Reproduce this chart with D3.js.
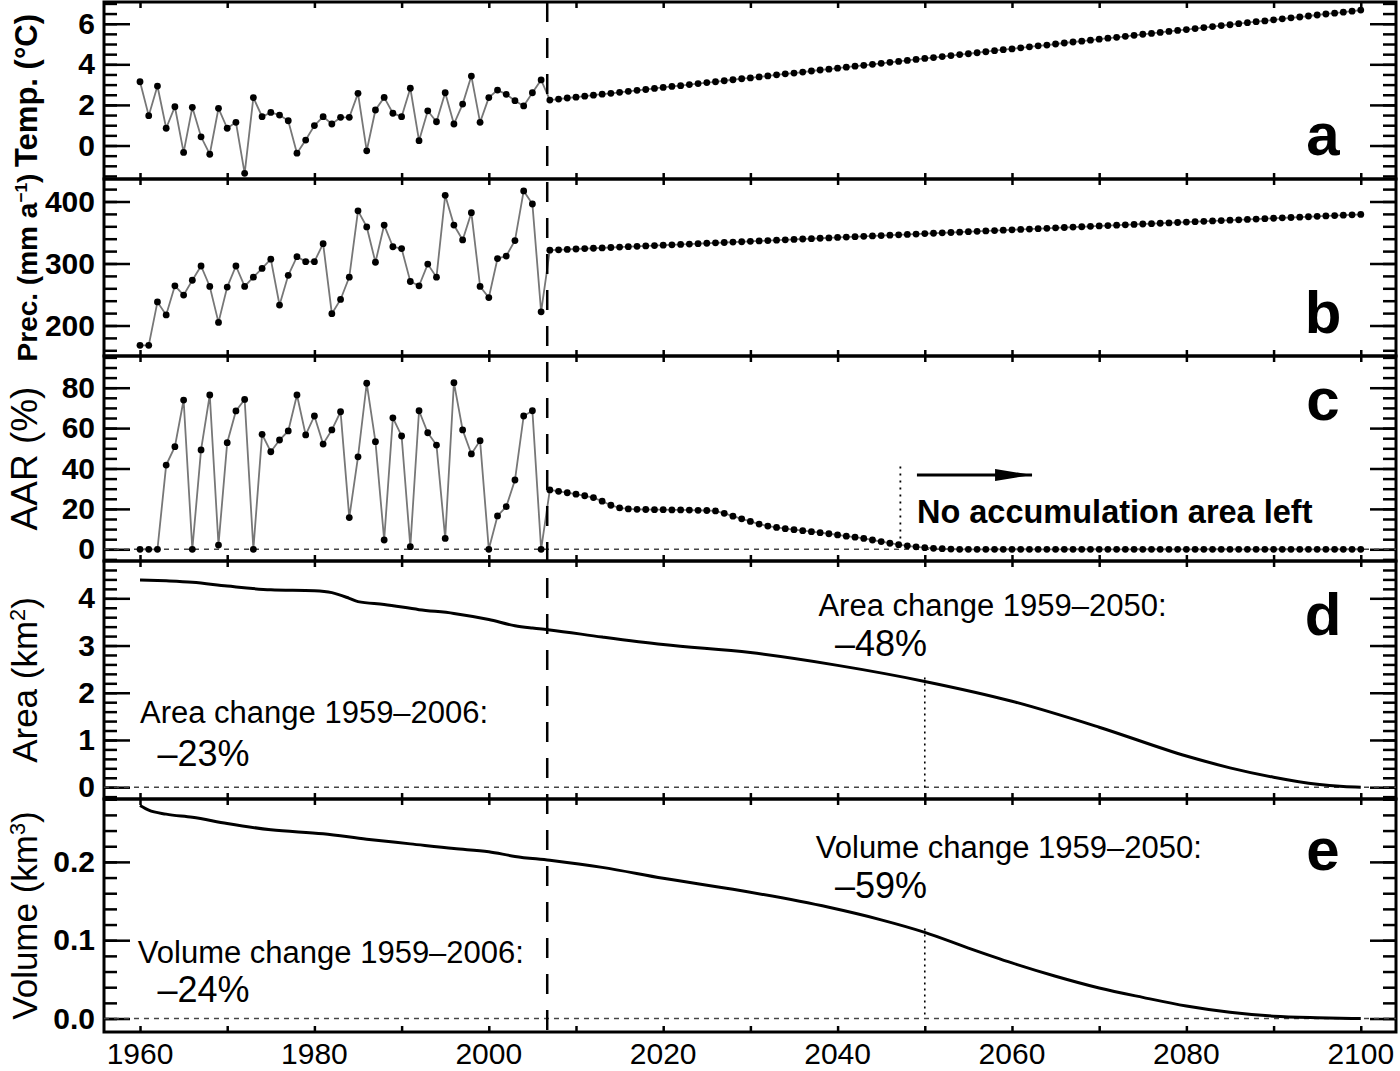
<!DOCTYPE html>
<html>
<head>
<meta charset="utf-8">
<script src="https://cdn.jsdelivr.net/npm/d3@7"></script>
<style>
  body { margin: 0; background: #fff; }
  svg { display: block; font-family: "Liberation Sans", Arial, Helvetica, sans-serif; }
</style>
</head>
<body>
<svg id="chart" width="1400" height="1071"></svg>
<script>
// observed years (met. data) and projection years
const yearsObs = d3.range(1960, 2007);
const yearsProj = d3.range(2007, 2101);

// a: summer temperature (degC)
const tempObs = [3.14, 1.47, 2.93, 0.85, 1.91, -0.34, 1.88, 0.43, -0.43, 1.83,
  0.85, 1.14, -1.37, 2.36, 1.42, 1.63, 1.50, 1.22, -0.38, 0.27,
  0.98, 1.42, 1.06, 1.39, 1.39, 2.57, -0.26, 1.75, 2.37, 1.59,
  1.42, 2.82, 0.24, 1.71, 1.17, 2.60, 1.06, 2.04, 3.42, 1.14,
  2.36, 2.73, 2.52, 2.21, 1.95, 2.60, 3.23];
const tempProj = [2.24, 2.29, 2.34, 2.38, 2.43, 2.48, 2.53, 2.57, 2.62, 2.67,
  2.72, 2.76, 2.81, 2.86, 2.91, 2.95, 3.00, 3.05, 3.10, 3.14,
  3.19, 3.24, 3.29, 3.33, 3.38, 3.43, 3.48, 3.53, 3.57, 3.62,
  3.67, 3.72, 3.76, 3.81, 3.86, 3.91, 3.95, 4.00, 4.05, 4.10,
  4.14, 4.19, 4.24, 4.29, 4.33, 4.38, 4.43, 4.48, 4.52, 4.57,
  4.62, 4.67, 4.72, 4.76, 4.81, 4.86, 4.91, 4.95, 5.00, 5.05,
  5.10, 5.14, 5.19, 5.24, 5.29, 5.33, 5.38, 5.43, 5.48, 5.52,
  5.57, 5.62, 5.67, 5.71, 5.76, 5.81, 5.86, 5.91, 5.95, 6.00,
  6.05, 6.10, 6.14, 6.19, 6.24, 6.29, 6.33, 6.38, 6.43, 6.48,
  6.52, 6.57, 6.62, 6.67];

// b: precipitation (mm a-1)
const precObs = [168, 168, 238, 217, 264, 249, 273, 296, 263, 205,
  262, 296, 263, 278, 292, 307, 233, 281, 311, 303,
  303, 332, 219, 242, 278, 385, 359, 302, 362, 327,
  324, 271, 264, 299, 278, 410, 362, 338, 382, 263,
  245, 308, 312, 337, 417, 396, 222];
const precProj = [321.5, 322.1, 322.7, 323.4, 324.0, 324.6, 325.2, 325.8, 326.5, 327.1,
  327.7, 328.3, 328.9, 329.6, 330.2, 330.8, 331.4, 332.0, 332.7, 333.3,
  333.9, 334.5, 335.1, 335.8, 336.4, 337.0, 337.6, 338.2, 338.9, 339.5,
  340.1, 340.7, 341.3, 342.0, 342.6, 343.2, 343.8, 344.4, 345.1, 345.7,
  346.3, 346.9, 347.5, 348.2, 348.8, 349.4, 350.0, 350.6, 351.3, 351.9,
  352.5, 353.1, 353.7, 354.4, 355.0, 355.6, 356.2, 356.8, 357.5, 358.1,
  358.7, 359.3, 359.9, 360.6, 361.2, 361.8, 362.4, 363.0, 363.7, 364.3,
  364.9, 365.5, 366.1, 366.8, 367.4, 368.0, 368.6, 369.2, 369.9, 370.5,
  371.1, 371.7, 372.3, 373.0, 373.6, 374.2, 374.8, 375.4, 376.1, 376.7,
  377.3, 377.9, 378.5, 379.2];

// c: accumulation area ratio (%)
const aarObs = [0, 0, 0, 41.7, 50.8, 73.9, 0, 49.2, 76.4, 2.1,
  52.8, 68.5, 74.2, 0, 56.9, 48.3, 54.1, 58.6, 76.4, 56.6,
  66.0, 52.1, 59.1, 68.1, 15.7, 45.8, 82.2, 53.3, 4.6, 65.1,
  56.1, 1.3, 68.6, 57.7, 51.6, 5.4, 82.5, 59.1, 47.2, 53.8,
  0, 16.5, 21.1, 34.3, 66.0, 68.6, 0];
const aarProj = [29.4, 28.7, 28.0, 27.3, 26.5, 25.6, 23.8, 21.8, 20.5, 20.0,
  19.8, 19.7, 19.6, 19.6, 19.5, 19.5, 19.4, 19.3, 19.2, 19.0,
  17.8, 16.4, 15.1, 13.8, 12.5, 11.5, 10.8, 10.2, 9.7, 9.2,
  8.7, 8.2, 7.7, 7.1, 6.5, 6.0, 5.4, 4.6, 3.8, 3.0,
  2.3, 1.7, 1.2, 0.8, 0.5, 0.3, 0.1, 0, 0, 0,
  0, 0, 0, 0, 0, 0, 0, 0, 0, 0,
  0, 0, 0, 0, 0, 0, 0, 0, 0, 0,
  0, 0, 0, 0, 0, 0, 0, 0, 0, 0,
  0, 0, 0, 0, 0, 0, 0, 0, 0, 0,
  0, 0, 0, 0];

// d: glacier area (km2)
const areaYears = [1960, 1963, 1966, 1970, 1975, 1980, 1982, 1984, 1985, 1988,
  1992, 1996, 2000, 2003, 2005, 2007, 2013, 2020, 2030, 2040,
  2050, 2060, 2070, 2080, 2085, 2090, 2095, 2098, 2100];
const areaValues = [4.39, 4.37, 4.34, 4.26, 4.18, 4.16, 4.12, 4.00, 3.93, 3.87,
  3.76, 3.68, 3.55, 3.42, 3.37, 3.33, 3.18, 3.02, 2.85, 2.58,
  2.24, 1.82, 1.27, 0.66, 0.41, 0.21, 0.06, 0.015, 0.0];

// e: glacier volume (km3)
const volYears = [1960, 1961, 1963, 1966, 1970, 1975, 1981, 1986, 1991, 1996,
  2000, 2003, 2007, 2013, 2020, 2028, 2039, 2045, 2050, 2055,
  2060, 2065, 2070, 2075, 2080, 2085, 2090, 2095, 2100];
const volValues = [0.272, 0.266, 0.261, 0.257, 0.249, 0.241, 0.236, 0.229, 0.223, 0.217,
  0.213, 0.207, 0.202, 0.193, 0.179, 0.165, 0.142, 0.126, 0.110, 0.090,
  0.071, 0.054, 0.039, 0.027, 0.016, 0.008, 0.003, 0.001, 0.000];

const dividerYear = 2006.7;   // end of observations
const noAccYear = 2047.2;     // AAR reaches zero
const refYear = 2050;
const xTickYears = d3.range(1960, 2101, 10);
const xLabelYears = d3.range(1960, 2101, 20);

const svg = d3.select("#chart");
const left = 104, right = 1396;
const x = d3.scaleLinear().domain([1955.87, 2104.04]).range([left, right]);

const panels = [
  { id: "a", top: 2, bottom: 179, domain: [-1.65, 7.07], major: [0, 2, 4, 6], minor: d3.range(-1.5, 7.01, 0.5),
    fmt: d3.format("d"), letterY: 155 },
  { id: "b", top: 179, bottom: 356, domain: [150.8, 436.3], major: [200, 300, 400], minor: d3.range(160, 421, 20),
    fmt: d3.format("d"), letterY: 333 },
  { id: "c", top: 356, bottom: 561, domain: [-5.8, 95.7], major: [0, 20, 40, 60, 80], minor: d3.range(-5, 96, 5),
    fmt: d3.format("d"), letterY: 420 },
  { id: "d", top: 561, bottom: 799, domain: [-0.25, 4.79], major: [0, 1, 2, 3, 4], minor: d3.range(-0.2, 4.7, 0.2),
    fmt: d3.format("d"), letterY: 635 },
  { id: "e", top: 799, bottom: 1032, domain: [-0.0172, 0.2803], major: [0, 0.1, 0.2], minor: d3.range(0, 0.281, 0.02),
    fmt: d3.format(".1f"), letterY: 870 }
];
panels.forEach(p => {
  p.y = d3.scaleLinear().domain(p.domain).range([p.bottom, p.top]);
});
const P = Object.fromEntries(panels.map(p => [p.id, p]));

// ---- axes and frames
panels.forEach(p => {
  const g = svg.append("g");
  const noDomain = s => s.select(".domain").remove();

  g.append("g").attr("transform", `translate(${left},0)`)
    .call(d3.axisLeft(p.y).tickValues(p.minor).tickSize(-13).tickFormat(""))
    .call(noDomain);
  g.append("g").attr("transform", `translate(${left},0)`)
    .call(d3.axisLeft(p.y).tickValues(p.major).tickSize(-26).tickPadding(9).tickFormat(p.fmt))
    .call(noDomain);
  g.append("g").attr("transform", `translate(${right},0)`)
    .call(d3.axisRight(p.y).tickValues(p.minor).tickSize(-13).tickFormat(""))
    .call(noDomain);
  g.append("g").attr("transform", `translate(${right},0)`)
    .call(d3.axisRight(p.y).tickValues(p.major).tickSize(-26).tickFormat(""))
    .call(noDomain);
  g.append("g").attr("transform", `translate(0,${p.top})`)
    .call(d3.axisTop(x).tickValues(xTickYears).tickSize(-6).tickFormat(""))
    .call(noDomain);
  g.append("g").attr("transform", `translate(0,${p.bottom})`)
    .call(d3.axisBottom(x).tickValues(xTickYears).tickSize(-6).tickFormat(""))
    .call(noDomain);

  g.selectAll(".tick line").attr("stroke", "#000").attr("stroke-width", 2.5);
  g.selectAll(".tick text").attr("font-size", 30).attr("font-weight", "bold").attr("fill", "#000");

  g.append("rect")
    .attr("x", left).attr("y", p.top)
    .attr("width", right - left).attr("height", p.bottom - p.top)
    .attr("fill", "none").attr("stroke", "#000").attr("stroke-width", 3);

  svg.append("text")
    .attr("x", 1323).attr("y", p.letterY)
    .attr("text-anchor", "middle")
    .attr("font-size", 60).attr("font-weight", "bold")
    .text(p.id);
});

// year labels under the last panel
svg.selectAll(".xlab")
  .data(xLabelYears)
  .enter()
  .append("text")
  .attr("class", "xlab")
  .attr("x", d => x(d))
  .attr("y", 1064)
  .attr("text-anchor", "middle")
  .attr("font-size", 30)
  .text(d => d);

// y axis titles
const yTitles = [
  { id: "a", parts: [["Temp. (°C)"]], size: 31, weight: "bold" },
  { id: "b", parts: [["Prec. (mm a"], ["−1", "sup"], [")"]], size: 28, weight: "bold" },
  { id: "c", parts: [["AAR (%)"]], size: 37, weight: "normal" },
  { id: "d", parts: [["Area (km"], ["2", "sup"], [")"]], size: 35, weight: "normal" },
  { id: "e", parts: [["Volume (km"], ["3", "sup"], [")"]], size: 35, weight: "normal" }
];
yTitles.forEach(t => {
  const p = P[t.id];
  const txt = svg.append("text")
    .attr("transform", `translate(37,${(p.top + p.bottom) / 2}) rotate(-90)`)
    .attr("text-anchor", "middle")
    .attr("font-size", t.size)
    .attr("font-weight", t.weight);
  t.parts.forEach(([s, kind]) => {
    const ts = txt.append("tspan").text(s);
    if (kind === "sup") ts.attr("baseline-shift", "super").attr("font-size", t.size * 0.62);
  });
});

// zero reference lines
["c", "d", "e"].forEach(id => {
  const p = P[id];
  svg.append("line")
    .attr("x1", left).attr("x2", right)
    .attr("y1", p.y(0)).attr("y2", p.y(0))
    .attr("stroke", "#444").attr("stroke-width", 1.6)
    .attr("stroke-dasharray", "5,5");
});

// ---- point series (a, b, c)
const series = [
  { id: "a", values: tempObs.concat(tempProj) },
  { id: "b", values: precObs.concat(precProj) },
  { id: "c", values: aarObs.concat(aarProj) }
];
const allYears = yearsObs.concat(yearsProj);
series.forEach(s => {
  const p = P[s.id];
  const line = d3.line().x((d, i) => x(allYears[i])).y(d => p.y(d));
  svg.append("path")
    .datum(s.values)
    .attr("d", line)
    .attr("fill", "none")
    .attr("stroke", "#777")
    .attr("stroke-width", 1.8);
  svg.append("g")
    .selectAll("circle")
    .data(s.values)
    .enter()
    .append("circle")
    .attr("cx", (d, i) => x(allYears[i]))
    .attr("cy", d => p.y(d))
    .attr("r", 3.4)
    .attr("fill", "#000");
});

// ---- area and volume curves
const curves = [
  { id: "d", years: areaYears, values: areaValues },
  { id: "e", years: volYears, values: volValues }
];
curves.forEach(c => {
  const p = P[c.id];
  const line = d3.line()
    .x((d, i) => x(c.years[i]))
    .y(d => p.y(d))
    .curve(d3.curveMonotoneX);
  svg.append("path")
    .datum(c.values)
    .attr("d", line)
    .attr("fill", "none")
    .attr("stroke", "#000")
    .attr("stroke-width", 3);

  // dotted drop line at 2050
  const v2050 = c.values[c.years.indexOf(refYear)];
  svg.append("line")
    .attr("x1", x(refYear)).attr("x2", x(refYear))
    .attr("y1", p.y(v2050) - 4).attr("y2", p.y(0))
    .attr("stroke", "#000").attr("stroke-width", 1.6)
    .attr("stroke-dasharray", "2,4");
});

// dotted line where the accumulation area vanishes
svg.append("line")
  .attr("x1", x(noAccYear)).attr("x2", x(noAccYear))
  .attr("y1", P.c.y(41)).attr("y2", P.c.y(0))
  .attr("stroke", "#000").attr("stroke-width", 1.8)
  .attr("stroke-dasharray", "2,5");

// arrow
svg.append("defs").append("marker")
  .attr("id", "arrowhead")
  .attr("markerUnits", "userSpaceOnUse")
  .attr("markerWidth", 38).attr("markerHeight", 14)
  .attr("refX", 37).attr("refY", 7)
  .attr("orient", "auto")
  .append("path")
  .attr("d", "M0,1 L37,7 L0,13 Z")
  .attr("fill", "#000");
svg.append("line")
  .attr("x1", x(2049.1)).attr("x2", x(2062.3))
  .attr("y1", P.c.y(36.8)).attr("y2", P.c.y(36.8))
  .attr("stroke", "#000").attr("stroke-width", 3)
  .attr("marker-end", "url(#arrowhead)");

// vertical dashed divider between observations and projections
svg.append("line")
  .attr("x1", x(dividerYear)).attr("x2", x(dividerYear))
  .attr("y1", P.a.top).attr("y2", P.e.bottom)
  .attr("stroke", "#000").attr("stroke-width", 2.5)
  .attr("stroke-dasharray", "20,16");

// ---- annotations
const notes = [
  { id: "c", year: 2049.1, value: 12.9, text: "No accumulation area left", size: 32.5, weight: "bold" },
  { id: "d", year: 2037.8, value: 3.63, text: "Area change 1959–2050:", size: 31 },
  { id: "d", year: 2039.7, value: 2.77, text: "–48%", size: 36 },
  { id: "d", year: 1960, value: 1.36, text: "Area change 1959–2006:", size: 31 },
  { id: "d", year: 1962, value: 0.44, text: "–23%", size: 36 },
  { id: "e", year: 2037.5, value: 0.2046, text: "Volume change 1959–2050:", size: 31 },
  { id: "e", year: 2039.7, value: 0.1539, text: "–59%", size: 36 },
  { id: "e", year: 1959.75, value: 0.0705, text: "Volume change 1959–2006:", size: 31 },
  { id: "e", year: 1962, value: 0.0215, text: "–24%", size: 36 }
];
notes.forEach(n => {
  svg.append("text")
    .attr("x", x(n.year))
    .attr("y", P[n.id].y(n.value))
    .attr("font-size", n.size)
    .attr("font-weight", n.weight || "normal")
    .text(n.text);
});
</script>
</body>
</html>
